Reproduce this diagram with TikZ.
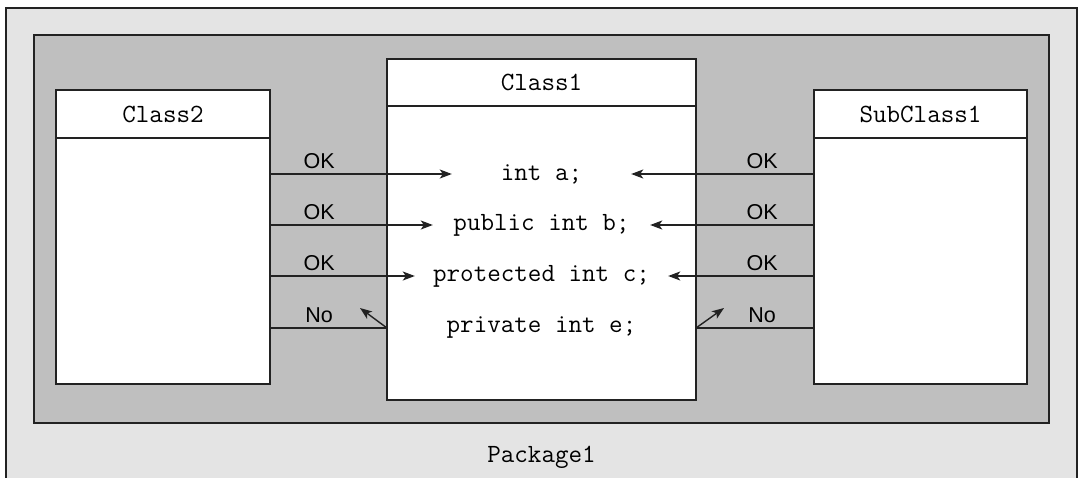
\documentclass[tikz,border=0pt]{standalone}
\usepackage{fontspec}
\usepackage{xcolor}
\usepackage{tikz}
\usetikzlibrary{positioning,arrows.meta}
\newfontfamily\labelfont{Liberation Sans}
\definecolor{pkgouter}{HTML}{E4E4E4}
\definecolor{pkginner}{HTML}{BFBFBF}
\definecolor{edge}{HTML}{222222}

\begin{document}
\begin{tikzpicture}[
    x=1pt, y=-1pt,
    frame/.style={rectangle, draw=edge, line width=1.3pt, outer sep=0pt, inner sep=0pt},
    hdr/.style={frame, fill=white, font=\ttfamily\fontsize{26.3}{30}\selectfont},
    body/.style={frame, fill=white},
    member/.style={inner sep=0pt, font=\ttfamily\fontsize{26.3}{30}\selectfont},
    lbl/.style={inner sep=0pt, above=5pt, font=\labelfont\fontsize{21.5}{25}\selectfont},
    arr/.style={-{Stealth[length=12pt, width=9pt, inset=3pt]}, line width=1.4pt, color=edge},
    link/.style={line width=1.4pt, color=edge}
]
\useasboundingbox[fill=white] (0,0) rectangle (1081,477);

% Package
\node[frame, fill=pkgouter, minimum width=1071, minimum height=492] (pkg) at (541.5,254) {};
\node[frame, fill=pkginner, minimum width=1015, minimum height=388] (pkgbody) at (541.5,229) {};
\node[member] (pkgname) at (541.5,457) {Package1};

% Classes
\node[hdr, minimum width=214, minimum height=48] (c2head) at (163,114) {Class2};
\node[body, below=0pt of c2head, minimum width=214, minimum height=246] (c2) {};
\node[hdr, minimum width=309, minimum height=47] (c1head) at (541.5,82.5) {Class1};
\node[body, below=0pt of c1head, minimum width=309, minimum height=294] (c1) {};
\node[hdr, minimum width=213, minimum height=48] (subhead) at (920.5,114) {SubClass1};
\node[body, below=0pt of subhead, minimum width=213, minimum height=246] (sub) {};

% Members of Class1
\node[member, minimum width=179] (ma) at (541.5,174) {int a;};
\node[member, minimum width=217] (mb) at (541.5,225) {public int b;};
\node[member, minimum width=253] (mc) at (541.5,276) {protected int c;};
\node[member] (me) at (541.5,328) {private int e;};

\coordinate (noleft)  at (360,308);
\coordinate (noright) at (724,308);

% Access from Class2
\draw[arr] (c2.east |- ma) -- (ma.west);
\draw[arr] (c2.east |- mb) -- (mb.west);
\draw[arr] (c2.east |- mc) -- (mc.west);
\draw[link] (c2.east |- me) -- (c1.west |- me);
\draw[arr] (c1.west |- me) -- (noleft);
\path (c2.east |- ma) -- node[lbl, pos=0.42] {OK} (c1.west |- ma);
\path (c2.east |- mb) -- node[lbl, pos=0.42] {OK} (c1.west |- mb);
\path (c2.east |- mc) -- node[lbl, pos=0.42] {OK} (c1.west |- mc);
\path (c2.east |- me) -- node[lbl, pos=0.42] {No} (c1.west |- me);

% Access from SubClass1
\draw[arr] (sub.west |- ma) -- (ma.east);
\draw[arr] (sub.west |- mb) -- (mb.east);
\draw[arr] (sub.west |- mc) -- (mc.east);
\draw[link] (sub.west |- me) -- (c1.east |- me);
\draw[arr] (c1.east |- me) -- (noright);
\path (c1.east |- ma) -- node[lbl, pos=0.56] {OK} (sub.west |- ma);
\path (c1.east |- mb) -- node[lbl, pos=0.56] {OK} (sub.west |- mb);
\path (c1.east |- mc) -- node[lbl, pos=0.56] {OK} (sub.west |- mc);
\path (c1.east |- me) -- node[lbl, pos=0.56] {No} (sub.west |- me);

\end{tikzpicture}
\end{document}
